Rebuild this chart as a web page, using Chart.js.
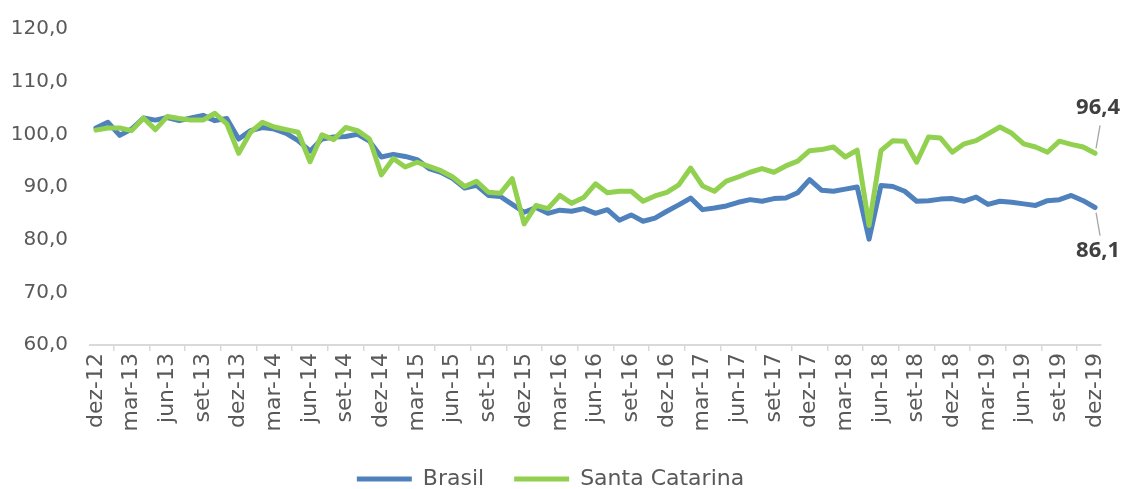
<!DOCTYPE html>
<html>
<head>
<meta charset="utf-8">
<script src="https://cdn.jsdelivr.net/npm/chart.js@4.4.1/dist/chart.umd.min.js"></script>
<style>
html,body{margin:0;padding:0;background:#fff;}
#wrap{width:1130px;height:489px;position:relative;}
</style>
</head>
<body>
<div id="wrap"><canvas id="c" width="1130" height="489"></canvas></div>
<script>
const categories = [
"dez-12",
"jan-13","fev-13","mar-13","abr-13","mai-13","jun-13","jul-13","ago-13","set-13","out-13","nov-13","dez-13",
"jan-14","fev-14","mar-14","abr-14","mai-14","jun-14","jul-14","ago-14","set-14","out-14","nov-14","dez-14",
"jan-15","fev-15","mar-15","abr-15","mai-15","jun-15","jul-15","ago-15","set-15","out-15","nov-15","dez-15",
"jan-16","fev-16","mar-16","abr-16","mai-16","jun-16","jul-16","ago-16","set-16","out-16","nov-16","dez-16",
"jan-17","fev-17","mar-17","abr-17","mai-17","jun-17","jul-17","ago-17","set-17","out-17","nov-17","dez-17",
"jan-18","fev-18","mar-18","abr-18","mai-18","jun-18","jul-18","ago-18","set-18","out-18","nov-18","dez-18",
"jan-19","fev-19","mar-19","abr-19","mai-19","jun-19","jul-19","ago-19","set-19","out-19","nov-19","dez-19"
];

const brasil = [
101.2,
102.3, 99.8,101.0,103.1,102.7,103.2,102.6,103.1,103.6,102.6,103.0, 99.1,
100.7,101.3,101.0,100.2, 98.8, 96.8, 99.1, 99.5, 99.6,100.0, 98.7, 95.7,
 96.2, 95.8, 95.2, 93.5, 92.8, 91.6, 89.8, 90.3, 88.4, 88.2, 86.7, 85.2,
 86.1, 85.0, 85.6, 85.4, 85.9, 85.0, 85.7, 83.7, 84.7, 83.5, 84.1, 85.4,
 86.6, 87.9, 85.7, 86.0, 86.4, 87.1, 87.6, 87.3, 87.8, 87.9, 88.9, 91.4,
 89.4, 89.2, 89.6, 90.0, 80.1, 90.3, 90.1, 89.2, 87.3, 87.4, 87.7, 87.8,
 87.3, 88.1, 86.7, 87.3, 87.1, 86.8, 86.5, 87.4, 87.6, 88.4, 87.4, 86.1
];

const santaCatarina = [
100.8,
101.2,101.2,100.7,103.1,100.9,103.4,103.0,102.7,102.7,104.0,102.0, 96.4,
100.4,102.3,101.4,100.9,100.4, 94.8, 99.9, 99.0,101.3,100.7, 99.1, 92.3,
 95.4, 93.8, 94.7, 93.9, 93.1, 91.9, 90.1, 91.1, 89.0, 88.8, 91.6, 83.0,
 86.5, 85.9, 88.4, 86.9, 88.0, 90.6, 88.9, 89.2, 89.2, 87.3, 88.3, 89.0,
 90.4, 93.6, 90.2, 89.2, 91.1, 91.9, 92.8, 93.5, 92.8, 94.0, 94.9, 96.9,
 97.1, 97.6, 95.7, 97.0, 82.7, 96.9, 98.8, 98.7, 94.7, 99.5, 99.3, 96.6,
 98.2, 98.8,100.1,101.4,100.2, 98.2, 97.6, 96.6, 98.7, 98.1, 97.6, 96.4
];

const yTicks = [60, 70, 80, 90, 100, 110, 120];
const seriesNames = ["Brasil", "Santa Catarina"];

const fmt = v => v.toFixed(1).replace('.', ',');

const endLabels = {
  id: 'endLabels',
  afterDatasetsDraw(chart) {
    const ctx = chart.ctx;
    const specs = [
      {ds: 1, dir: -1, textOff: 46},
      {ds: 0, dir: 1, textOff: 43}
    ];
    ctx.save();
    specs.forEach(s => {
      const meta = chart.getDatasetMeta(s.ds);
      const pts = meta.data;
      const pt = pts[pts.length - 1];
      const val = chart.data.datasets[s.ds].data[pts.length - 1];
      ctx.strokeStyle = '#a6a6a6';
      ctx.lineWidth = 1.3;
      ctx.beginPath();
      ctx.moveTo(pt.x + 1, pt.y + s.dir * 5);
      ctx.lineTo(pt.x + 5, pt.y + s.dir * 28);
      ctx.stroke();
      ctx.fillStyle = '#404040';
      ctx.font = 'bold 22px "Open Sans"';
      ctx.textAlign = 'center';
      ctx.textBaseline = 'middle';
      ctx.fillText(fmt(val), pt.x + 3, pt.y + s.dir * s.textOff);
    });
    ctx.restore();
  }
};

new Chart(document.getElementById('c'), {
  type: 'line',
  data: {
    labels: categories,
    datasets: [
      {
        label: seriesNames[0],
        data: brasil,
        borderColor: '#4f81bd',
        backgroundColor: '#4f81bd',
        borderWidth: 5,
        pointRadius: 0,
        pointHoverRadius: 0,
        tension: 0,
        borderJoinStyle: 'round',
        borderCapStyle: 'round',
        pointStyle: 'line',
        order: 1
      },
      {
        label: seriesNames[1],
        data: santaCatarina,
        borderColor: '#92d050',
        backgroundColor: '#92d050',
        borderWidth: 5,
        pointRadius: 0,
        pointHoverRadius: 0,
        tension: 0,
        borderJoinStyle: 'round',
        borderCapStyle: 'round',
        pointStyle: 'line',
        order: 0
      }
    ]
  },
  options: {
    responsive: false,
    animation: false,
    devicePixelRatio: 1,
    layout: { padding: { left: 0, right: 29, top: 29, bottom: -11 } },
    plugins: {
      tooltip: { enabled: false },
      legend: {
        position: 'bottom',
        labels: {
          usePointStyle: true,
          pointStyleWidth: 55,
          boxHeight: 5,
          padding: 30,
          color: '#595959',
          font: { family: '"DejaVu Sans"', size: 22 },
          sort: (a, b) => a.datasetIndex - b.datasetIndex
        }
      }
    },
    scales: {
      x: {
        offset: true,
        grid: {
          display: true,
          offset: true,
          drawOnChartArea: false,
          drawTicks: true,
          tickLength: 6,
          color: '#d9d9d9',
          lineWidth: 1.5
        },
        border: { display: true, color: '#d9d9d9', width: 2 },
        ticks: {
          autoSkip: false,
          minRotation: 90,
          maxRotation: 90,
          padding: 2,
          color: '#595959',
          font: { family: '"DejaVu Sans"', size: 22 },
          callback: function(value, index) {
            return index % 3 === 0 ? categories[index] : null;
          }
        },
        afterFit(scale) { scale.height = 93; }
      },
      y: {
        min: yTicks[0],
        max: yTicks[yTicks.length - 1],
        grid: { display: false, drawTicks: false },
        border: { display: false },
        afterBuildTicks(scale) { scale.ticks = yTicks.map(v => ({ value: v })); },
        ticks: {
          padding: 22,
          color: '#595959',
          font: { family: '"DejaVu Sans"', size: 20 },
          callback: v => fmt(v)
        },
        afterFit(scale) {
          scale.width = 90;
          scale.paddingTop = 0;
          scale.paddingBottom = 0;
        }
      }
    }
  },
  plugins: [endLabels]
});
</script>
</body>
</html>
